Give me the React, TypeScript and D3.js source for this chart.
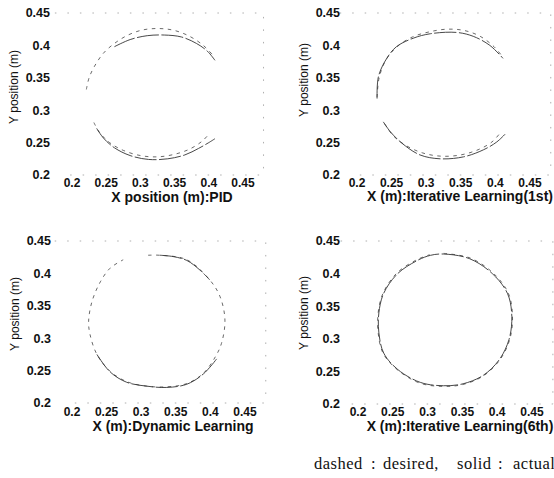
import React from 'react'
import * as d3 from 'd3'

// tick values shared by both axes of every panel
const tickValues = [0.2, 0.25, 0.3, 0.35, 0.4, 0.45]
const tickLabels = ['0.2', '0.25', '0.3', '0.35', '0.4', '0.45']

// PID: the right part of the circle is missing in the scan
const pidDesiredUpper = [[0.221, 0.332], [0.225, 0.35], [0.233, 0.368], [0.246, 0.388], [0.262, 0.403], [0.282, 0.416], [0.304, 0.424], [0.328, 0.426], [0.35, 0.423], [0.372, 0.414], [0.392, 0.4], [0.405, 0.386]]
const pidDesiredLower = [[0.232, 0.281], [0.24, 0.266], [0.255, 0.25], [0.275, 0.238], [0.3, 0.23], [0.325, 0.228], [0.35, 0.232], [0.372, 0.24], [0.39, 0.252], [0.401, 0.264]]
const pidActualUpper = [[0.262, 0.398], [0.285, 0.409], [0.31, 0.415], [0.335, 0.416], [0.36, 0.413], [0.382, 0.403], [0.398, 0.391], [0.409, 0.377]]
const pidActualLower = [[0.236, 0.272], [0.246, 0.257], [0.262, 0.242], [0.285, 0.23], [0.312, 0.224], [0.34, 0.225], [0.365, 0.231], [0.385, 0.241], [0.4, 0.25], [0.409, 0.256]]

// iterative learning, 1st trial
const ilc1DesiredUpper = [[0.229, 0.32], [0.232, 0.35], [0.242, 0.378], [0.258, 0.398], [0.28, 0.413], [0.305, 0.421], [0.33, 0.425], [0.355, 0.423], [0.378, 0.414], [0.398, 0.398], [0.41, 0.383]]
const ilc1DesiredLower = [[0.24, 0.279], [0.252, 0.261], [0.27, 0.246], [0.295, 0.234], [0.322, 0.229], [0.35, 0.231], [0.375, 0.239], [0.395, 0.251], [0.407, 0.265]]
const ilc1ActualUpper = [[0.229, 0.318], [0.231, 0.352], [0.243, 0.38], [0.257, 0.398], [0.281, 0.411], [0.306, 0.418], [0.344, 0.42], [0.368, 0.414], [0.392, 0.4], [0.411, 0.38]]
const ilc1ActualLower = [[0.238, 0.282], [0.248, 0.267], [0.265, 0.249], [0.291, 0.231], [0.32, 0.225], [0.354, 0.228], [0.383, 0.239], [0.402, 0.251], [0.414, 0.263]]

// dynamic learning
const dynDesired = [[0.31, 0.428], [0.327, 0.428], [0.366, 0.421], [0.399, 0.39], [0.414, 0.364], [0.421, 0.328], [0.416, 0.292], [0.407, 0.271], [0.39, 0.246], [0.366, 0.23], [0.337, 0.225], [0.308, 0.226], [0.279, 0.233], [0.255, 0.249], [0.236, 0.275], [0.226, 0.306], [0.224, 0.326], [0.229, 0.357], [0.241, 0.387], [0.255, 0.408], [0.274, 0.421]]
const dynActualTop = [[0.327, 0.428], [0.346, 0.426], [0.366, 0.42], [0.385, 0.405], [0.399, 0.39]]
const dynActualBottom = [[0.409, 0.268], [0.39, 0.245], [0.366, 0.229], [0.337, 0.224], [0.308, 0.226], [0.279, 0.232], [0.255, 0.248], [0.236, 0.275]]

// iterative learning, 6th trial
const ilc6Desired = [[0.323, 0.431], [0.361, 0.424], [0.394, 0.401], [0.416, 0.37], [0.422, 0.334], [0.418, 0.299], [0.404, 0.268], [0.38, 0.243], [0.351, 0.23], [0.323, 0.227], [0.289, 0.232], [0.256, 0.253], [0.236, 0.278], [0.229, 0.309], [0.229, 0.34], [0.236, 0.37], [0.256, 0.401], [0.284, 0.421], [0.303, 0.429]]
const ilc6Actual = [[0.323, 0.43], [0.36, 0.423], [0.393, 0.4], [0.415, 0.369], [0.421, 0.334], [0.417, 0.299], [0.403, 0.268], [0.38, 0.244], [0.351, 0.231], [0.323, 0.228], [0.29, 0.233], [0.257, 0.253], [0.237, 0.278], [0.23, 0.309], [0.23, 0.34], [0.237, 0.37], [0.257, 0.4], [0.285, 0.42], [0.304, 0.428]]

// caption pieces
const captionParts = ['dashed', ':', 'desired,', 'solid', ':', 'actual']

type Pt = number[]

const panels = [
  { title: 'X position (m):PID', x: [72, 243], y: [175, 13], yLabelRight: 50, tickBase: 186.5, titleX: 172, titleY: 202, yTitleX: 18, yTitleY: 87, desired: [pidDesiredUpper, pidDesiredLower], actual: [pidActualUpper, pidActualLower], closed: false },
  { title: 'X (m):Iterative Learning(1st)', x: [357, 530], y: [175, 13], yLabelRight: 340, tickBase: 186.5, titleX: 460, titleY: 201, yTitleX: 308, yTitleY: 80, desired: [ilc1DesiredUpper, ilc1DesiredLower], actual: [ilc1ActualUpper, ilc1ActualLower], closed: false },
  { title: 'X (m):Dynamic Learning', x: [72, 245], y: [403, 241], yLabelRight: 51, tickBase: 416, titleX: 173, titleY: 431, yTitleX: 19, yTitleY: 314, desired: [dynDesired], actual: [dynActualTop, dynActualBottom], closed: false },
  { title: 'X (m):Iterative Learning(6th)', x: [358, 532], y: [404, 241], yLabelRight: 340, tickBase: 415.5, titleX: 460, titleY: 431, yTitleX: 308, yTitleY: 313, desired: [ilc6Desired], actual: [ilc6Actual], closed: true },
]

const captionX = [314, 371, 383, 457, 498, 513]

const sans = 'Arial, "Liberation Sans", Helvetica, sans-serif'

const Panel = ({ p }: { p: (typeof panels)[number] }) => {
  const xs = d3.scaleLinear().domain([0.2, 0.45]).range(p.x)
  const ys = d3.scaleLinear().domain([0.2, 0.45]).range(p.y)
  const line = d3
    .line<Pt>()
    .x((d) => xs(d[0]))
    .y((d) => ys(d[1]))
    .curve(p.closed ? d3.curveCatmullRomClosed : d3.curveCatmullRom)
  const desiredLine = d3
    .line<Pt>()
    .x((d) => xs(d[0]))
    .y((d) => ys(d[1]))
    .curve(d3.curveCatmullRom)

  const fl = xs(0.175)
  const fr = xs(0.48)
  const ft = ys(0.45)
  const fb = ys(0.2)

  return (
    <g>
      {/* faint axes frame, as it survives in the scan */}
      <path d={`M${fl},${ft}H${fr}V${fb}H${fl + 10}`} fill="none" stroke="#999" strokeWidth={0.8} strokeDasharray="1.5,11" />

      {p.desired.map((seg, i) => (
        <path key={'d' + i} d={desiredLine(seg as Pt[]) as string} fill="none" stroke="#444" strokeWidth={0.8} strokeDasharray="3.5,4.5" />
      ))}
      {p.actual.map((seg, i) => (
        <path key={'a' + i} d={line(seg as Pt[]) as string} fill="none" stroke="#333" strokeWidth={0.9} strokeDasharray="22,2.5" />
      ))}

      {tickValues.map((v, i) => (
        <text key={'y' + i} x={p.yLabelRight} y={ys(v) + 4.3} textAnchor="end" fontFamily={sans} fontWeight="bold" fontSize={12.5} fill="#111">
          {tickLabels[i]}
        </text>
      ))}
      {tickValues.map((v, i) => (
        <text key={'x' + i} x={xs(v)} y={p.tickBase} textAnchor="middle" fontFamily={sans} fontWeight="bold" fontSize={12} fill="#111">
          {tickLabels[i]}
        </text>
      ))}
      <text x={p.titleX} y={p.titleY} textAnchor="middle" fontFamily={sans} fontWeight="bold" fontSize={14} fill="#111">
        {p.title}
      </text>
      <text transform={`translate(${p.yTitleX},${p.yTitleY}) rotate(-90)`} textAnchor="middle" fontFamily={sans} fontSize={12} fill="#111">
        Y position (m)
      </text>
    </g>
  )
}

export default function App() {
  return (
    <svg width={554} height={478} style={{ position: 'absolute', left: 0, top: 0, background: '#fff' }}>
      <rect width={554} height={478} fill="#fff" />
      {panels.map((p, i) => (
        <Panel key={i} p={p} />
      ))}
      <text y={469} fontFamily='"Liberation Serif", "Times New Roman", serif' fontSize={16.5} letterSpacing={0.5} fill="#111">
        {captionParts.map((s, i) => (
          <tspan key={i} x={captionX[i]}>
            {s}
          </tspan>
        ))}
      </text>
    </svg>
  )
}
